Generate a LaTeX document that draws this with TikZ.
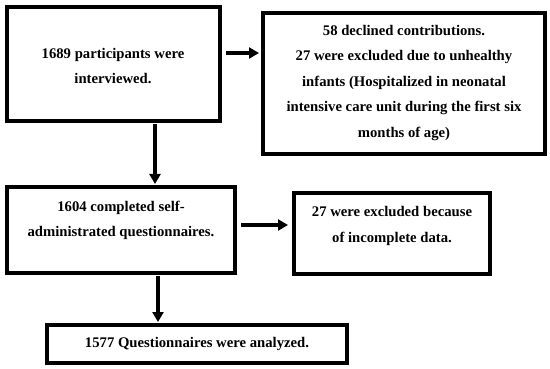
\documentclass[tikz,border=0pt]{standalone}
\usepackage{fontspec}
\setmainfont{Liberation Serif}
\usetikzlibrary{arrows.meta,calc}
\begin{document}
\begin{tikzpicture}[x=1pt,y=-1pt,
  box/.style={draw=black,line width=4pt,inner sep=0pt},
  txt/.style={align=center,font=\fontsize{14.7}{25.5}\selectfont\bfseries,inner sep=0pt},
  arr/.style={line width=3.5pt,-{Triangle[length=10pt,width=11pt]}}]
\useasboundingbox (0,0) rectangle (550,369);
\node[box,minimum width=213pt,minimum height=114pt] (b1) at (113.5,64) {};
\node[box,minimum width=282pt,minimum height=141pt] (b2) at (404,83.5) {};
\node[box,minimum width=228pt,minimum height=86pt] (b3) at (121,230) {};
\node[box,minimum width=196pt,minimum height=81pt] (b4) at (392,233.5) {};
\node[box,minimum width=300pt,minimum height=38pt] (b5) at (197,344) {};
\node[txt] (t1) at (113,66) {1689 participants were\\interviewed.};
\node[txt] (t2) at (404,83) {58 declined contributions.\\27 were excluded due to unhealthy\\infants (Hospitalized in neonatal\\intensive care unit during the first six\\months of age)};
\node[txt] (t3) at (121,220.5) {1604 completed self-\\administrated questionnaires.};
\node[txt] (t4) at (392,226) {27 were excluded because\\of incomplete data.};
\node[txt] (t5) at (197,344) {1577 Questionnaires were analyzed.};
\coordinate (a1) at ([xshift=4pt,yshift=11pt]b1.east);
\draw[arr] (a1) -- ([xshift=-2pt]b2.west |- a1);
\coordinate (a2) at ([xshift=41.5pt,yshift=-1pt]b1.south);
\draw[arr] (a2) -- ([yshift=1pt]b3.north -| a2);
\coordinate (a3) at ([xshift=4pt,yshift=5pt]b3.east);
\draw[arr] (a3) -- ([xshift=-4pt]b4.west |- a3);
\coordinate (a4) at ([xshift=37pt,yshift=-1pt]b3.south);
\draw[arr] (a4) -- ([yshift=1pt]b5.north -| a4);
\end{tikzpicture}
\end{document}
